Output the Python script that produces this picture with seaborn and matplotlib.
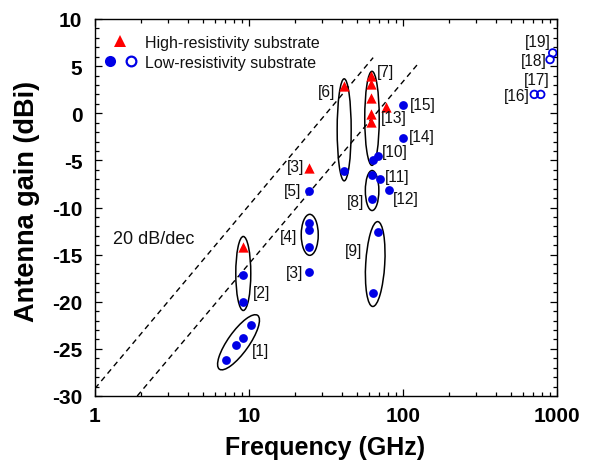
import numpy as np
import pandas as pd
import matplotlib
matplotlib.use("Agg")
import matplotlib.pyplot as plt
import matplotlib.transforms as mtransforms
from matplotlib.patches import Ellipse
from matplotlib.legend_handler import HandlerTuple
from matplotlib.lines import Line2D
from matplotlib.ticker import FixedLocator, MultipleLocator, LogLocator, NullFormatter
import seaborn as sns

# --- data -------------------------------------------------------------
# High-resistivity substrate antennas (frequency in GHz, gain in dBi)
hr_freq = [9.1, 24.5, 41.5, 62, 62, 62, 62, 62, 78]
hr_gain = [-14.2, -5.8, 2.9, 3.9, 3.1, 1.6, -0.1, -0.9, 0.7]

# Low-resistivity substrate antennas (measured, filled markers)
lr_freq = [7.1, 8.2, 9.2, 10.3, 9.1, 9.1, 24.5, 24.5, 24.5, 24.5, 24.5,
           41.5, 69, 63.5, 63.2, 70.9, 81.5, 63, 68.5, 63.6, 100, 100]
lr_gain = [-26.2, -24.6, -23.8, -22.5, -17.2, -20.0, -8.2, -11.6, -12.4,
           -14.2, -16.8, -6.1, -4.5, -5.0, -6.6, -7.0, -8.1, -9.1, -12.6,
           -19.1, 0.9, -2.6]

# Low-resistivity substrate antennas (open markers)
thz_freq = [938, 901, 712, 784]
thz_gain = [6.4, 5.7, 2.0, 2.0]

# 20 dB/dec guide lines (end points)
guide1_freq = [1.0, 64.0]
guide1_gain = [-29.2, 5.9]
guide2_freq = [1.88, 126.0]
guide2_gain = [-30.0, 5.3]

# Reference labels
ref_text = ["[1]", "[2]", "[3]", "[5]", "[4]", "[3]", "[6]", "[7]", "[13]",
            "[15]", "[14]", "[10]", "[11]", "[12]", "[8]", "[9]",
            "[19]", "[18]", "[17]", "[16]"]
ref_freq = [10.46, 10.66, 22.9, 22.0, 20.6, 22.5, 36.2, 67.5, 71.6,
            111, 110, 72.7, 76.4, 86.5, 55.8, 54.4, 914, 857, 901, 668]
ref_gain = [-25.2, -19.0, -5.7, -8.2, -13.05, -16.9, 2.29, 4.4, -0.43,
            0.88, -2.45, -4.08, -6.73, -9.02, -9.34, -14.58, 7.63, 5.58,
            3.63, 1.86]
ref_side = ["left", "left", "right", "right", "right", "right", "right",
            "left", "left", "left", "left", "left", "left", "left",
            "right", "right", "right", "right", "right", "right"]

# Groups circled in the plot: centre (GHz, dBi), size in pixels, tilt
grp_freq = [8.55, 9.18, 24.8, 41.5, 62.9, 63.0, 66.0]
grp_gain = [-24.3, -17.0, -12.9, -1.76, -0.54, -8.2, -16.0]
grp_w = [66, 15, 17, 14, 14.5, 13.5, 19]
grp_h = [21, 74, 41, 102, 94, 40, 85]
grp_angle = [54.6, 0, 0, 0, 0, 0, -3.4]

RED = "#ff0000"
BLUE = "#0000e6"
INK = "#111111"

# --- style ------------------------------------------------------------
sns.set_style("ticks")
plt.rcParams["font.family"] = ["Liberation Sans", "DejaVu Sans"]
plt.rcParams.update({
    "axes.linewidth": 1.0,
    "axes.edgecolor": "black",
    "xtick.color": "black",
    "ytick.color": "black",
    "text.color": "black",
    "axes.labelcolor": "black",
})

DPI = 100
fig = plt.figure(figsize=(5.9, 4.64), dpi=DPI)
ax = fig.add_axes([95 / 590, 1 - 397 / 464, 462 / 590, 377 / 464])

ax.set_xscale("log")
ax.set_xlim(1, 1000)
ax.set_ylim(-30, 10)

# guide lines
ax.plot(guide1_freq, guide1_gain, color="black", lw=1.0, ls=(0, (4, 3)), zorder=1)
ax.plot(guide2_freq, guide2_gain, color="black", lw=1.0, ls=(0, (4, 3)), zorder=1)

# markers
hr_df = pd.DataFrame({"freq": hr_freq, "gain": hr_gain})
lr_df = pd.DataFrame({"freq": lr_freq, "gain": lr_gain})
thz_df = pd.DataFrame({"freq": thz_freq, "gain": thz_gain})

sns.scatterplot(data=hr_df, x="freq", y="gain", marker="^", s=55,
                color=RED, linewidth=0, ax=ax, zorder=3)
sns.scatterplot(data=lr_df, x="freq", y="gain", marker="o", s=40,
                color=BLUE, linewidth=0, ax=ax, zorder=3)
sns.scatterplot(data=thz_df, x="freq", y="gain", marker="o", s=30,
                facecolor="none", edgecolor=BLUE, linewidth=1.3, ax=ax, zorder=3)

# circled groups, drawn in screen units around a data-space centre
for f, g, w, h, a in zip(grp_freq, grp_gain, grp_w, grp_h, grp_angle):
    trans = fig.dpi_scale_trans + mtransforms.ScaledTranslation(f, g, ax.transData)
    ax.add_patch(Ellipse((0, 0), w / DPI, h / DPI, angle=a, fill=False,
                         edgecolor="black", lw=1.1, transform=trans, zorder=2))

# reference labels
for t, f, g, side in zip(ref_text, ref_freq, ref_gain, ref_side):
    ax.text(f, g, t, ha=side, va="center", fontsize=11.2, color=INK)

ax.text(1.31, -13.3, "20 dB/dec", ha="left", va="center", fontsize=13, color=INK)

# axes, ticks
ax.xaxis.set_major_locator(FixedLocator([1, 10, 100, 1000]))
ax.set_xticklabels(["1", "10", "100", "1000"])
ax.xaxis.set_minor_locator(LogLocator(base=10, subs=np.arange(2, 10)))
ax.xaxis.set_minor_formatter(NullFormatter())
yt = list(range(-30, 11, 5))
ax.yaxis.set_major_locator(FixedLocator(yt))
ax.set_yticklabels([str(v) for v in yt])
ax.yaxis.set_minor_locator(MultipleLocator(1))

ax.tick_params(which="both", direction="in", top=True, right=True, width=0.9,
               color="black", labelcolor="black")
ax.tick_params(which="major", length=5)
ax.tick_params(which="minor", length=3)
ax.tick_params(axis="y", which="major", pad=9)
ax.tick_params(axis="x", which="major", pad=7)
for lab in ax.get_xticklabels() + ax.get_yticklabels():
    lab.set_fontweight("bold")
    lab.set_fontsize(15)

ax.set_xlabel("Frequency (GHz)", fontsize=18, fontweight="bold", color="black")
ax.set_ylabel("Antenna gain (dBi)", fontsize=19.5, fontweight="bold", color="black")
ax.xaxis.set_label_coords(0.497, -0.103)
ax.yaxis.set_label_coords(-0.119, 0.519)

# legend
h_hr = Line2D([], [], marker="^", color=RED, ls="none", markersize=9, markeredgewidth=0)
h_lr = Line2D([], [], marker="o", color=BLUE, ls="none", markersize=8, markeredgewidth=0)
h_thz = Line2D([], [], marker="o", mfc="none", mec=BLUE, ls="none", markersize=7,
               markeredgewidth=1.6)
leg = ax.legend([h_hr, (h_lr, h_thz)],
                ["High-resistivity substrate", "Low-resistivity substrate"],
                handler_map={tuple: HandlerTuple(ndivide=None, pad=0.6)},
                loc="upper left", bbox_to_anchor=(0.02, 0.958), frameon=False,
                fontsize=11.5, handlelength=2.0, handletextpad=0.55,
                labelspacing=0.3, borderpad=0, borderaxespad=0)
for t in leg.get_texts():
    t.set_color(INK)

fig.savefig("out.png", dpi=DPI)
